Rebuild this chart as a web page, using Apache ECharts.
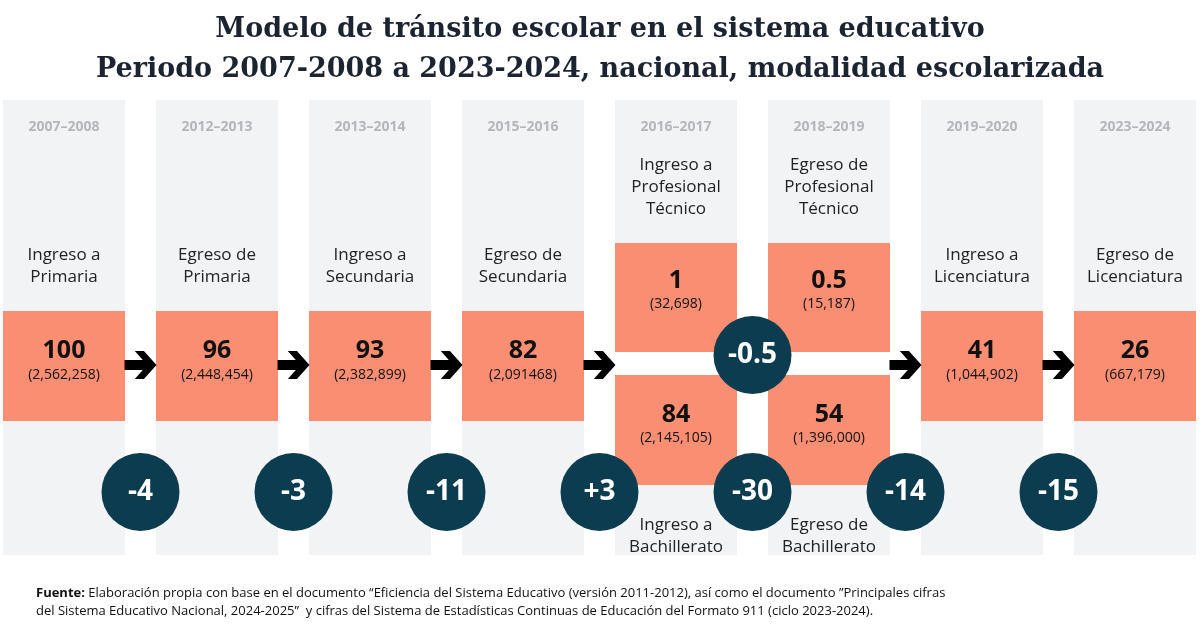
<!DOCTYPE html>
<html><head><meta charset="utf-8">
<script src="https://cdn.jsdelivr.net/npm/echarts@6/dist/echarts.min.js"></script>
<style>html,body{margin:0;background:#fff}#c{width:1200px;height:630px}</style>
</head><body><div id="c"></div>
<script>
// datos
var years = ['2007–2008','2012–2013','2013–2014','2015–2016','2016–2017','2018–2019','2019–2020','2023–2024'];
var stages = ['Ingreso a\nPrimaria','Egreso de\nPrimaria','Ingreso a\nSecundaria','Egreso de\nSecundaria','Ingreso a\nProfesional\nTécnico','Egreso de\nProfesional\nTécnico','Ingreso a\nLicenciatura','Egreso de\nLicenciatura'];
var values = ['100','96','93','82','1','0.5','41','26'];
var counts = ['(2,562,258)','(2,448,454)','(2,382,899)','(2,091468)','(32,698)','(15,187)','(1,044,902)','(667,179)'];
// rama bachillerato (columnas 4 y 5)
var bachStages = ['Ingreso a\nBachillerato','Egreso de\nBachillerato'];
var bachValues = ['84','54'];
var bachCounts = ['(2,145,105)','(1,396,000)'];
// variaciones entre columnas
var changePos = [0.5,1.5,2.5,3.5,4.5,5.5,6.5];
var changes = ['-4','-3','-11','+3','-30','-14','-15'];
var arrowPos = [0.5,1.5,2.5,3.5,5.5,6.5];
var ptChange = '-0.5';

var SALMON = '#fa8e73', GRAY = '#f2f3f5', NAVY = '#0c3c4f';
var chart = echarts.init(document.getElementById('c'));
var W = 61; // medio ancho de columna
function colItem(params, api){
  var i = params.dataIndex;
  var cx = api.coord([i, 0])[0];
  var ch = [];
  ch.push({type:'rect', shape:{x:cx-W,y:100,width:2*W,height:455}, style:{fill:GRAY}});
  ch.push({type:'text', style:{x:cx,y:127,text:years[i],align:'center',verticalAlign:'middle',fill:'#b3b6bb',font:'bold 14px "Open Sans"'}});
  var split = (i===4 || i===5);
  if(!split){
    ch.push({type:'text', style:{x:cx,y:266,text:stages[i],align:'center',verticalAlign:'middle',fill:'#222',font:'17px "Open Sans"',lineHeight:22}});
    ch.push({type:'rect', shape:{x:cx-W,y:311,width:2*W,height:110}, style:{fill:SALMON}});
    ch.push({type:'text', style:{x:cx,y:351,text:values[i],align:'center',verticalAlign:'middle',fill:'#111',font:'bold 25px "Open Sans"'}});
    ch.push({type:'text', style:{x:cx,y:375,text:counts[i],align:'center',verticalAlign:'middle',fill:'#111',font:'14px "Open Sans"'}});
  } else {
    var b = i-4;
    ch.push({type:'text', style:{x:cx,y:187,text:stages[i],align:'center',verticalAlign:'middle',fill:'#222',font:'17px "Open Sans"',lineHeight:22}});
    ch.push({type:'rect', shape:{x:cx-W,y:243,width:2*W,height:109}, style:{fill:SALMON}});
    ch.push({type:'rect', shape:{x:cx-W-16,y:352,width:2*W+32,height:23}, style:{fill:'#fff'}});
    ch.push({type:'rect', shape:{x:cx-W,y:375,width:2*W,height:110}, style:{fill:SALMON}});
    ch.push({type:'text', style:{x:cx,y:281,text:values[i],align:'center',verticalAlign:'middle',fill:'#111',font:'bold 25px "Open Sans"'}});
    ch.push({type:'text', style:{x:cx,y:304,text:counts[i],align:'center',verticalAlign:'middle',fill:'#111',font:'14px "Open Sans"'}});
    ch.push({type:'text', style:{x:cx,y:415,text:bachValues[b],align:'center',verticalAlign:'middle',fill:'#111',font:'bold 25px "Open Sans"'}});
    ch.push({type:'text', style:{x:cx,y:438,text:bachCounts[b],align:'center',verticalAlign:'middle',fill:'#111',font:'14px "Open Sans"'}});
    ch.push({type:'text', style:{x:cx,y:536,text:bachStages[b],align:'center',verticalAlign:'middle',fill:'#222',font:'17px "Open Sans"',lineHeight:22}});
  }
  return {type:'group', children:ch};
}
var arrowPath = 'path://M0,3.2 L8,3.2 L4.5,0 L8.5,0 L14,5 L8.5,10 L4.5,10 L8,6.8 L0,6.8 Z';
chart.setOption({
  animation:false,
  title:{text:'Modelo de tránsito escolar en el sistema educativo\nPeriodo 2007-2008 a 2023-2024, nacional, modalidad escolarizada',
    left:'center', top:5, textStyle:{fontFamily:'DejaVu Serif',fontSize:27,fontWeight:'bold',color:'#1b2430',lineHeight:40}},
  grid:{left:3,right:4,top:100,bottom:75},
  xAxis:{type:'value',min:-61/153,max:7+61/153,show:false},
  yAxis:{type:'value',min:0,max:455,inverse:true,show:false},
  series:[
    {type:'custom', renderItem:colItem, data:years.map(function(y,i){return [i,0];}), z:1},
    {type:'scatter', symbol:arrowPath, symbolSize:[32,28], itemStyle:{color:'#000',opacity:1}, z:3,
     data:arrowPos.map(function(p){return [p,265];})},
    {type:'scatter', symbolSize:78, itemStyle:{color:NAVY,opacity:1}, z:4,
     label:{show:true,position:'inside',formatter:function(p){return changes[p.dataIndex];},color:'#fff',fontSize:28,fontWeight:'bold',fontFamily:'Open Sans'},
     data:changePos.map(function(p){return [p,392];})},
    {type:'scatter', symbolSize:78, itemStyle:{color:NAVY,opacity:1}, z:4,
     label:{show:true,position:'inside',formatter:ptChange,color:'#fff',fontSize:28,fontWeight:'bold',fontFamily:'Open Sans'},
     data:[[4.5,255]]}
  ],
  graphic:[{type:'text',left:36,top:584,style:{
    text:'{b|Fuente:} Elaboración propia con base en el documento “Eficiencia del Sistema Educativo (versión 2011-2012), así como el documento ”Principales cifras\ndel Sistema Educativo Nacional, 2024-2025”  y cifras del Sistema de Estadísticas Continuas de Educación del Formato 911 (ciclo 2023-2024).',
    font:'13px "Open Sans"',fill:'#111',lineHeight:18,rich:{b:{fontWeight:'bold',fontSize:13,fontFamily:'Open Sans'}}}}]
});
</script></body></html>
